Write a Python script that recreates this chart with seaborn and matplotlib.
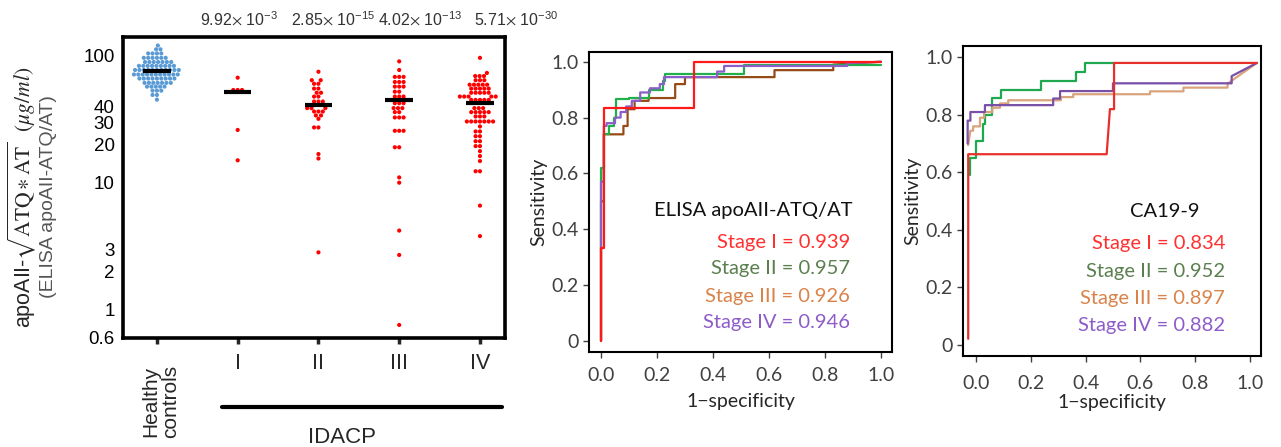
import numpy as np
import pandas as pd
import matplotlib
matplotlib.use("Agg")
import matplotlib.pyplot as plt
import seaborn as sns
from matplotlib.lines import Line2D

# ---------------- data: scatter panel ----------------
groups = ["Healthy controls", "I", "II", "III", "IV"]
healthy_vals = ([120] * 1 + [112] * 2 + [104] * 4 + [96] * 6 + [89] * 7 + [83] * 9 + [77] * 11 +
                [71] * 11 + [66] * 9 + [61] * 7 + [57] * 5 + [53] * 3 + [49] * 2 + [45] * 1)
stage1_vals = [67, 53.6, 53.6, 53.6, 26, 15]
stage2_vals = ([74.6] + [64] * 2 + [60] * 2 + [55] * 2 + [51] * 2 + [47.6] * 2 + [43.5] * 3 +
               [38.6] * 3 + [36.3] * 3 + [33.8] * 2 + [31.8] + [27.2] * 2 + [16.8, 15.5, 2.83])
stage3_vals = ([90, 77] + [68] * 3 + [62] * 3 + [57] * 3 + [52] * 2 + [47.6] * 3 + [42.2] * 3 +
               [38.6] * 3 + [35.9] * 2 + [32.6] * 3 + [25.6] * 3 + [19] * 2 + [11, 10, 4.2, 2.7, 0.76])
stage4_vals = ([96, 73] + [69] * 3 + [64] * 3 + [59] * 5 + [55] * 5 + [51] * 5 + [47.6] * 5 +
               [44.8] * 5 + [38.6] * 3 + [35.9] * 5 + [33.2] * 3 + [30.3] * 7 + [27.7] + [25.3] * 2 +
               [23.2] * 2 + [21.2] * 2 + [19.4] * 2 + [17.7, 16.2, 14.8] + [12.3] * 2 + [6.6, 3.8])
medians = [75, 51.4, 40.7, 44.6, 42]
pvalues = [r"9.92$\times$ 10$^{\mathregular{-3}}$", r"2.85$\times$ 10$^{\mathregular{-15}}$",
           r"4.02$\times$ 10$^{\mathregular{-13}}$", r"5.71$\times$ 10$^{\mathregular{-30}}$"]
y_ticks = [0.6, 1, 2, 3, 10, 20, 30, 40, 100]

# ---------------- data: ROC ELISA ----------------
elisa_I_fpr = [0, 0, 0.012, 0.012, 0.333, 0.333, 1.0]
elisa_I_tpr = [0, 0.333, 0.333, 0.833, 0.833, 1.0, 1.0]
elisa_II_fpr = [0, 0, 0.01, 0.01, 0.03, 0.03, 0.045, 0.045, 0.055, 0.055, 0.10, 0.10, 0.17, 0.17,
                0.22, 0.22, 0.23, 0.23, 0.51, 0.51, 1.0]
elisa_II_tpr = [0, 0.62, 0.62, 0.74, 0.74, 0.77, 0.77, 0.80, 0.80, 0.865, 0.865, 0.87, 0.87, 0.90,
                0.90, 0.93, 0.93, 0.955, 0.955, 0.99, 0.99]
elisa_III_fpr = [0, 0, 0.01, 0.01, 0.08, 0.08, 0.095, 0.095, 0.12, 0.12, 0.17, 0.17, 0.265, 0.265,
                 0.30, 0.30, 0.62, 0.62, 0.83, 0.83, 1.0]
elisa_III_tpr = [0, 0.50, 0.50, 0.74, 0.74, 0.77, 0.77, 0.83, 0.83, 0.86, 0.86, 0.87, 0.87, 0.92,
                 0.92, 0.945, 0.945, 0.97, 0.97, 0.99, 1.0]
elisa_IV_fpr = [0, 0, 0.01, 0.01, 0.02, 0.02, 0.05, 0.05, 0.07, 0.07, 0.09, 0.09, 0.11, 0.11, 0.14,
                0.14, 0.175, 0.175, 0.21, 0.21, 0.225, 0.225, 0.415, 0.415, 0.44, 0.44, 0.88, 0.88, 1.0]
elisa_IV_tpr = [0, 0.57, 0.57, 0.77, 0.77, 0.78, 0.78, 0.80, 0.80, 0.82, 0.82, 0.84, 0.84, 0.86, 0.86,
                0.89, 0.89, 0.905, 0.905, 0.92, 0.92, 0.945, 0.945, 0.965, 0.965, 0.985, 0.985, 0.995, 1.0]
elisa_auc = ["0.939", "0.957", "0.926", "0.946"]

# ---------------- data: ROC CA19-9 ----------------
ca_I_fpr = [-0.028, -0.028, 0.477, 0.489, 0.504, 0.504, 1.025]
ca_I_tpr = [0.02, 0.663, 0.663, 0.82, 0.82, 0.981, 0.981]
ca_II_fpr = [-0.022, -0.022, 0, 0, 0.025, 0.025, 0.035, 0.035, 0.057, 0.057, 0.091, 0.091, 0.237,
             0.237, 0.365, 0.365, 0.398, 0.398, 0.504]
ca_II_tpr = [0.59, 0.65, 0.65, 0.71, 0.71, 0.77, 0.77, 0.80, 0.80, 0.86, 0.86, 0.888, 0.888,
             0.919, 0.919, 0.95, 0.95, 0.981, 0.981]
ca_III_fpr = [-0.028, -0.02, -0.01, -0.01, 0.015, 0.015, 0.03, 0.03, 0.06, 0.06, 0.088, 0.088, 0.118,
              0.118, 0.31, 0.31, 0.355, 0.355, 0.635, 0.635, 0.757, 0.757, 0.918, 0.918, 1.025]
ca_III_tpr = [0.695, 0.745, 0.745, 0.76, 0.76, 0.79, 0.79, 0.81, 0.81, 0.825, 0.825, 0.84, 0.84,
              0.851, 0.851, 0.862, 0.862, 0.872, 0.872, 0.882, 0.882, 0.895, 0.895, 0.909, 0.981]
ca_IV_fpr = [-0.03, -0.03, -0.02, -0.02, 0.033, 0.033, 0.282, 0.282, 0.307, 0.307, 0.5, 0.5, 0.933,
             0.933, 1.025]
ca_IV_tpr = [0.70, 0.78, 0.78, 0.81, 0.81, 0.834, 0.834, 0.857, 0.857, 0.883, 0.883, 0.91, 0.91,
             0.935, 0.981]
ca_auc = ["0.834", "0.952", "0.897", "0.882"]

stage_names = ["Stage I", "Stage II", "Stage III", "Stage IV"]
roc_ticks = [0, 0.2, 0.4, 0.6, 0.8, 1.0]

# ---------------- styling ----------------
sns.set_style("ticks")
plt.rcParams["font.family"] = ["Liberation Sans", "DejaVu Sans"]
plt.rcParams["mathtext.fontset"] = "stix"
ROCFONT = ["Lato", "DejaVu Sans"]

W, H = 1281, 447
fig = plt.figure(figsize=(W / 100, H / 100), dpi=100)


def rect(x0, y0, x1, y1):
    return [x0 / W, 1 - y1 / H, (x1 - x0) / W, (y1 - y0) / H]


# ---------------- scatter panel ----------------
ax1 = fig.add_axes(rect(123, 37, 505, 338))
ax1.set_yscale("log")
all_vals = [healthy_vals, stage1_vals, stage2_vals, stage3_vals, stage4_vals]
df = pd.DataFrame({
    "group": np.concatenate([[g] * len(v) for g, v in zip(groups, all_vals)]),
    "value": np.concatenate(all_vals),
})
pal = {"Healthy controls": "#5b9bd5", "I": "#ff0000", "II": "#ff0000", "III": "#ff0000", "IV": "#ff0000"}
sns.swarmplot(data=df, x="group", y="value", hue="group", order=groups, palette=pal,
              size=3.0, linewidth=0, legend=False, ax=ax1, warn_thresh=1)
ax1.hlines(medians, np.arange(len(groups)) - 0.17, np.arange(len(groups)) + 0.17,
           color="black", lw=3, zorder=5)
ax1.set_xlim(-0.42, 4.31)
ax1.set_ylim(0.63, 140)
ax1.set_yticks(y_ticks)
ax1.set_yticklabels(["0.6", "1", "2", "3", "10", "20", "30", "40", "100"])
ax1.minorticks_off()
ax1.tick_params(axis="y", length=0, labelsize=13.5, pad=6, colors="black")
ax1.tick_params(axis="x", length=4, width=2.5, direction="out", labelsize=15.5, pad=7)
ax1.set_xticks(range(len(groups)))
ax1.set_xticklabels(["", "I", "II", "III", "IV"])
ax1.set_xlabel("")
ax1.set_ylabel("")
for s in ax1.spines.values():
    s.set_linewidth(2.6)
    s.set_color("black")
fig.text(161 / W, 1 - 365 / H, "Healthy\ncontrols", rotation=90, ha="center", va="top",
         fontsize=15, linespacing=1.05)
for i, p in enumerate(pvalues):
    fig.text([239, 333, 420, 516][i] / W, 1 - 19 / H, p, ha="center", va="center",
             fontsize=11.5, color="#333333")
fig.add_artist(Line2D([222 / W, 502 / W], [1 - 407 / H] * 2, color="black", lw=3))
fig.text(342 / W, 1 - 427 / H, "IDACP", ha="center", va="top", fontsize=16)
fig.text(22 / W, 1 - 197 / H, r"apoAII-$\sqrt{\mathrm{ATQ}\ast\mathrm{AT}}$  $(\mu g/ml)$",
         rotation=90, ha="center", va="center", fontsize=15.5)
fig.text(49 / W, 1 - 197 / H, "(ELISA apoAII-ATQ/AT)", rotation=90, ha="center", va="center",
         fontsize=14, color="#555555")


# ---------------- ROC panels ----------------
def roc_panel(ax, curves, colors, title, auc, txt_colors, title_xy, txt_x, txt_ys, xlim, ylim,
              order, xpad, xlabelpad):
    rows = []
    for name, (fx, ty) in zip(stage_names, curves):
        for k, (a, b) in enumerate(zip(fx, ty)):
            rows.append((name, k, a, b))
    d = pd.DataFrame(rows, columns=["stage", "k", "fpr", "tpr"])
    for name in order:
        sub = d[d.stage == name]
        sns.lineplot(data=sub, x="fpr", y="tpr", sort=False, estimator=None,
                     color=colors[stage_names.index(name)], lw=1.6, ax=ax, legend=False)
    ax.set_xlim(*xlim)
    ax.set_ylim(*ylim)
    ax.set_xticks(roc_ticks)
    ax.set_xticklabels(["0.0", "0.2", "0.4", "0.6", "0.8", "1.0"])
    ax.set_yticks(roc_ticks)
    ax.set_yticklabels(["0", "0.2", "0.4", "0.6", "0.8", "1.0"])
    ax.tick_params(length=4, width=1, direction="out", labelsize=14, colors="#404040",
                   labelcolor="#404040")
    ax.tick_params(axis="x", pad=xpad)
    for t in ax.get_xticklabels() + ax.get_yticklabels():
        t.set_fontfamily(ROCFONT)
    for s in ax.spines.values():
        s.set_linewidth(1.5)
        s.set_color("black")
    ax.set_xlabel("1\u2212specificity", fontsize=14, family=ROCFONT, labelpad=xlabelpad)
    ax.set_ylabel("Sensitivity", fontsize=14, family=ROCFONT, labelpad=3)
    ax.text(title_xy[0], title_xy[1], title, ha=title_xy[2], va="center", fontsize=14.5,
            family=ROCFONT, color="#111111")
    for name, a, c, yy in zip(stage_names, auc, txt_colors, txt_ys):
        ax.text(txt_x, yy, f"{name} = {a}", ha="right", va="center", fontsize=14.5,
                family=ROCFONT, color=c)


txt_cols = ["#ff3030", "#5b7f4f", "#d9834a", "#8e5cc9"]

ax2 = fig.add_axes(rect(589, 52, 892, 352))
roc_panel(ax2,
          [(elisa_I_fpr, elisa_I_tpr), (elisa_II_fpr, elisa_II_tpr),
           (elisa_III_fpr, elisa_III_tpr), (elisa_IV_fpr, elisa_IV_tpr)],
          ["#ff1a1a", "#21b04b", "#964b16", "#8a5fc9"],
          "ELISA apoAII-ATQ/AT", elisa_auc, txt_cols, (0.9, 0.468, "right"), 0.89,
          [0.354, 0.26, 0.16, 0.064], (-0.043, 1.04), (-0.04, 1.035),
          ["Stage III", "Stage II", "Stage IV", "Stage I"], 7, 6)

ax3 = fig.add_axes(rect(963, 46, 1261, 356))
roc_panel(ax3,
          [(ca_I_fpr, ca_I_tpr), (ca_II_fpr, ca_II_tpr),
           (ca_III_fpr, ca_III_tpr), (ca_IV_fpr, ca_IV_tpr)],
          ["#e8302a", "#1fa84f", "#d9a47c", "#7a4fa8"],
          "CA19-9", ca_auc, txt_cols, (0.69, 0.462, "center"), 0.909,
          [0.352, 0.256, 0.162, 0.067], (-0.047, 1.04), (-0.04, 1.04),
          ["Stage II", "Stage III", "Stage IV", "Stage I"], 10, 1)

fig.savefig("out.png", dpi=100)
